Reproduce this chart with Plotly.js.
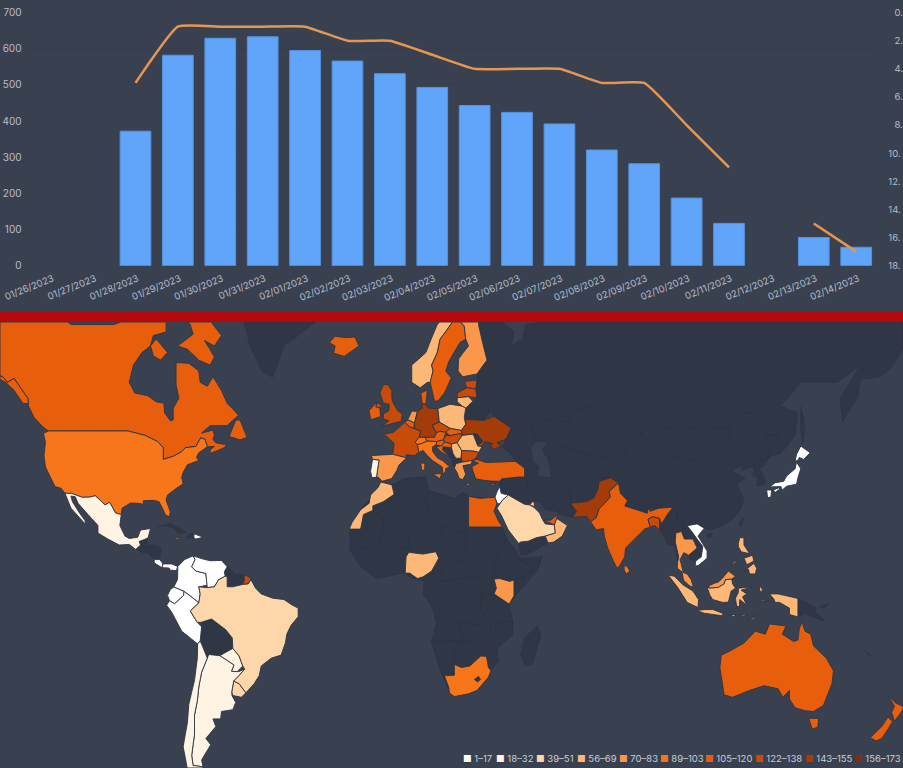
<!DOCTYPE html>
<html><head><meta charset="utf-8">
<script src="https://cdn.plot.ly/plotly-3.0.0.min.js"></script>
<style>html,body{margin:0;padding:0;background:#394151}</style></head>
<body><div id="chart" style="width:903px;height:768px"></div>
<script>
/* ---------- top chart values ---------- */
const dates = ['01/26/2023','01/27/2023','01/28/2023','01/29/2023','01/30/2023','01/31/2023','02/01/2023','02/02/2023','02/03/2023','02/04/2023','02/05/2023','02/06/2023','02/07/2023','02/08/2023','02/09/2023','02/10/2023','02/11/2023','02/12/2023','02/13/2023','02/14/2023'];
const barValues = [null,null,372,582,629,633,595,566,531,493,443,424,392,320,282,187,117,null,78,51];
const rankValues = [null,null,5,1,1,1,1,2,2,3,4,4,4,5,5,8,11,null,15,17];
const rankTicks = [0,2,4,6,8,10,12,14,16,18];
const rankTickText = ['\u20070.','\u20072.','\u20074.','\u20076.','\u20078.','10.','12.','14.','16.','18.'];

/* ---------- map values ---------- */
const binLabels = ['1–17','18–32','39–51','56–69','70–83','89–103','105–120','122–138','143–155','156–173'];
const binLow  = [1,18,39,56,70,89,105,122,143,156];
const binHigh = [17,32,51,69,83,103,120,138,155,173];
const binColors = ['#ffffff','#fff3e4','#fdd7aa','#fdb877','#fb974a','#f8761a','#e75f0d','#c94b0a','#a43c09','#7f2f0d'];
const countryIds = ['CAN','ALK','USA','MEX','CRI','PAN','DOM','JAM','COL','VEN','GUF','ECU','PER','PRY','URY','ARG','CHL','BRA',
 'ISL','GBR','IRL','FRA','ESP','PRT','BEL','NLD','DEU','DNK','NOR','SWE','FIN','EST','LVA','LTU','POL','CZE','SVK','AUT','HUN','CHE','ITA','SVN','HRV','SRB','ROU','BGR','GRC','TUR','CYP','UKR',
 'PAK','IND','BGD','LKA','THA','VNM','MYS','IDN','PHL','JPN','AUS','NZL','ISR','SAU','OMN','ARE','KWT','EGY','MAR','NGA','KEN','ZAF'];
const countryValues = [112,112,96,25,10,10,10,76,10,10,130,10,12,25,45,25,20,45,
 112,130,112,130,76,25,112,76,150,112,60,110,76,130,122,60,60,130,112,112,125,96,96,112,112,60,60,125,76,112,112,150,
 148,112,130,96,76,10,76,60,60,10,112,112,10,45,56,112,60,112,60,60,76,96];
const noDataIds = ['AFR','RUS','SAK','CHN','HAI','TWN','MNG','KAZ','CAS','AFG','IRN','IRQ','CAU','YEM','NPL','MMR','LAO','KHM','PRK','PNG','NBR','NCL','GRL','BLR','MDA','BIH','ALB','CAM','CUB','HTI','BOL','GUY','MDG',
 'MRT','MLI','DZA','LBY','NER','TCD','SDN','ETH','SOM','CAF','COD','AGO','ZMB','TZA','MOZ','NAM','BWA','CMR'];
const holeIds = ['LSO'];

/* Country outlines, flat lon,lat lists: the base map files cannot be fetched, so these are read by eye. */
const outlines = {
CAN:[[-141,69.6,-136,69,-128,70,-125,70,-120,69.5,-115,68,-108,68,-100,68,-96,68.5,-94,71,-91,69.5,-88,68.5,-85,69.5,-81.5,69,-81.5,67,-86,66.5,-87,65,-90,64,-93,62,-94.5,59,-92.5,57,-88,56.5,-85,55.3,-82.3,55,-82,53,-80,51.3,-79,51.5,-79,54,-77,56,-78,58.5,-78,60,-78,62.4,-73.5,62.3,-70,61,-69.5,59,-67,58.3,-65,60,-62,57.5,-60,55,-56,52.5,-60,50.2,-66,50.2,-69,48.5,-65,49.2,-64.5,48,-65,47,-64,46.2,-61,45.8,-60,46,-61,45,-66,43.5,-66,44.5,-64.5,45.3,-67,45.2,-67.8,47,-69.3,47.4,-71,45.3,-74.7,45,-76,44,-79,42.8,-82.5,42,-82.5,45,-84.5,46.5,-89,48,-95,49,-123,49,-125,50,-128,52,-130,54.5,-130.2,56,-135,59.7,-137.5,59,-139,60,-141,60.3],
 [-59.3,47.7,-57,51.4,-55.5,51.5,-53,47.5,-55.5,46.9],[-87,65,-85,66,-81,64,-83.5,62.8,-86,63.5],
 [-73,68,-72,66.7,-77.5,65,-74,64.5,-70,62.8,-66,62,-64.5,63.3,-68,65.8,-64.5,65,-62,66.5,-65,68,-68,70,-73,72,-85,73.5,-80,71]],
ALK:[[-141,69.6,-141,60.3,-139,60,-137.5,59,-135,59.7,-130.2,56,-130,54.9,-132,55,-135,57.5,-138,59,-141,59.8,-150,60,-150,70.5]],
USA:[[-123,49,-95,49,-89,48,-84.5,46.5,-82.5,45,-82.5,42,-79,42.8,-76,44,-74.7,45,-71,45.3,-69.3,47.4,-67.8,47,-67,45.2,-70,43.7,-70.8,42.5,-70,41.7,-74,40.6,-75.5,38.5,-76,37,-75.5,35.3,-78,33.9,-81,32,-81.5,30.5,-80,26.8,-80.4,25.2,-81.8,26,-82.8,28,-84,30,-86,30.4,-89.5,30.3,-89.5,29.2,-91.5,29.5,-94,29.6,-97,28,-97.3,26,-99.3,26.5,-101.4,29.8,-103,29,-104.8,30.5,-106.5,31.8,-108.2,31.4,-111,31.3,-114.8,32.5,-117.1,32.5,-118.5,34,-120.6,34.5,-122,36.8,-124,40,-124.5,43,-124,46.3,-124.7,48.4]],
MEX:[[-117.1,32.5,-114.8,32.5,-111,31.3,-108.2,31.4,-106.5,31.8,-104.8,30.5,-103,29,-101.4,29.8,-99.3,26.5,-97.3,26,-97.8,22.5,-96,19,-94.5,18.2,-91.5,18.6,-90.5,21,-87,21.5,-87.8,18.5,-89,17.9,-91,17.2,-90.5,16,-92.2,14.5,-94.5,16.2,-98,16,-102,18,-105.5,20,-105.5,22.5,-109,26,-112.5,29.5,-113.5,31.5,-115,31.7,-114.5,30,-112,26.5,-110,24,-110,23,-112,25,-115,28]],
CAM:[[-92.2,14.5,-90.5,16,-91,17.2,-89,17.9,-88.2,18.4,-88.3,16,-85,15.9,-83.2,15,-83.7,11,-85.7,11,-87.5,13,-89.5,13.4]],
CRI:[[-85.7,11,-83.7,11,-82.6,9.5,-83,8.2,-85.7,9.9]],
PAN:[[-82.9,8.2,-82.6,9.5,-79.5,9.5,-77.4,8.6,-77.9,7.2,-80,7.3,-80.5,8.1]],
CUB:[[-85,22,-80,23.2,-74.2,20.2,-77.5,19.9,-78.5,21.5,-82,22.5]],
DOM:[[-71.7,19.8,-68.4,18.6,-71,18,-71.7,18.3]],
HTI:[[-71.7,19.8,-71.7,18.3,-74.4,18.4,-72.8,19.9]],
JAM:[[-78.3,18.4,-76.3,18.2,-77,17.8,-78.2,18]],
COL:[[-77.4,8.6,-75,11,-72,12.3,-71.3,11,-72.5,8.5,-71,7,-67.5,6.2,-67,2,-70,1.5,-69.5,-1,-70,-4.2,-72,-2.5,-75.2,-0.1,-78.8,1.4,-77.5,4,-77.4,6.5]],
VEN:[[-72,12.3,-68.5,11.2,-66,10.6,-62,10.7,-60,8.5,-61,6.8,-60.7,5.2,-63,4,-64.5,1.5,-67,1.2,-67.5,6.2,-71,7,-72.5,8.5,-71.3,11]],
GUY:[[-60,8.5,-57,6,-54,5.8,-54,3.5,-54.6,2.3,-58,1.5,-60,1.5,-60,5,-60.7,5.2,-61,6.8]],
GUF:[[-54,5.8,-52,4.8,-51.6,4,-52.6,2.5,-54.6,2.3,-54,3.5]],
ECU:[[-78.8,1.4,-75.2,-0.1,-75.3,-1.5,-78.5,-4.5,-80.3,-3.4,-81,-1.5,-80,0.5]],
PER:[[-80.3,-3.4,-78.5,-4.5,-75.3,-1.5,-75.2,-0.1,-72,-2.5,-70,-4.2,-73,-7,-70.5,-11,-69,-12.5,-69.5,-17.3,-70.4,-18.3,-76,-14,-79.5,-7.5,-81.3,-5]],
BOL:[[-69,-10.9,-65.5,-9.8,-60.5,-13.5,-58.2,-16.3,-58,-19.8,-62.6,-22.2,-67,-23,-68.5,-19.5,-69.5,-17.3,-69,-12.5]],
PRY:[[-62.6,-22.2,-58,-19.8,-55.8,-22.3,-54.5,-25.5,-56.5,-27.3,-58.5,-27.2,-57.6,-25.2]],
URY:[[-58.4,-33.5,-57.7,-30.2,-55.8,-31,-53.4,-33.7,-55,-35,-58,-34.5]],
ARG:[[-66.5,-21.8,-62.6,-22.2,-57.6,-25.2,-58.5,-27.2,-56,-27.3,-53.8,-26.5,-55.8,-28.5,-57.7,-30.2,-58.4,-33.5,-58.3,-34.5,-57,-36.5,-58,-38.5,-62,-39,-62.3,-41,-65,-41,-64,-43,-67.5,-46,-65.8,-47.5,-69,-51,-68.5,-52.5,-72,-52.2,-72.5,-50,-71.5,-45,-71.5,-40,-70.5,-36,-70,-32,-69,-27.5,-67,-23]],
CHL:[[-70.4,-18.3,-69.5,-17.3,-68.5,-19.5,-67,-23,-69,-27.5,-70,-32,-70.5,-36,-71.5,-40,-71.5,-45,-72.5,-50,-72,-52.2,-68.5,-52.5,-69,-53.5,-74,-53,-75.5,-48,-74,-42,-73.5,-37,-71.5,-30,-70.5,-23]],
BRA:[[-51.6,4,-50,1,-48,-1,-44,-2.5,-40,-3,-37,-5,-35,-6,-35,-9,-37.5,-12,-39,-15,-39.5,-18,-41,-22,-44.5,-23,-48,-25.5,-48.7,-28.5,-50.5,-31,-53.4,-33.7,-55.8,-31,-57.7,-30.2,-55.8,-28.5,-53.8,-26.5,-54.5,-25.5,-55.8,-22.3,-58,-19.8,-58.2,-16.3,-60.5,-13.5,-65.5,-9.8,-69,-10.9,-70.5,-11,-73,-7,-70,-4.2,-69.5,-1,-70,1.5,-67,1.2,-64.5,1.5,-63,4,-60.7,5.2,-60,5,-60,1.5,-58,1.5,-54.6,2.3,-52.6,2.5]],
GRL:[[-44,59.9,-40,65,-30,68,-22,70,-20,75,-30,83,-60,82,-68,76,-55,70,-52,65,-48,61]],
ISL:[[-24,65.5,-22,66.4,-18,66.2,-15,66.3,-13.6,65,-18.8,63.4,-22.5,63.9,-22,65]],
GBR:[[-5.5,50.1,1.3,51.2,1.7,52.7,0,53.5,-1.5,55,-2,56,-2,57.5,-3.5,58.6,-5,58.6,-6.2,57,-5,55,-3,54.8,-3,53.5,-5,52.8,-5,51.7,-3,51.3],[-7.3,55.1,-5.6,54.6,-6.2,54,-7.7,54.3]],
IRL:[[-7.3,55.2,-7.7,54.3,-6.2,54,-6,52.2,-9.5,51.5,-10,53.5,-8.5,54.5]],
FRA:[[2.5,51,4.2,50,5.8,49.6,8.2,49,7.6,47.5,6.2,46.3,7,45.8,7.5,43.8,6,43,3,43.2,3.2,42.4,-1.7,43.3,-1.2,46,-4.7,48.3,-1.5,48.7,0.2,49.6]],
ESP:[[-9.2,43,-1.7,43.3,3.2,42.4,0.5,40.5,-0.3,39,-2,36.8,-5.5,36,-6.5,37,-7.4,37.2,-7,39.5,-6.5,41.8,-8.8,42]],
PRT:[[-8.8,42,-6.5,41.8,-7,39.5,-7.4,37.2,-9,37,-9.5,38.8]],
BEL:[[2.5,51,3.5,51.4,4.2,51.4,6,50.8,5.8,49.6,4.2,50]],
NLD:[[3.5,51.4,4.2,51.4,6,50.8,7,53.3,5,53.4]],
DEU:[[6,50.8,7,53.3,8.7,54,8.7,54.9,9.5,54.9,11,54,14.2,53.9,14.7,51,12.2,50.3,13.7,48.6,13,47.5,9.6,47.5,7.6,47.5,8.2,49,5.8,49.6]],
DNK:[[8.2,57,10.5,57.6,10,55,9.5,54.9,8.7,54.9]],
NOR:[[5,59,5,62,10,64,14,68,19,70,25,71,31,70,29,69.5,25,69,20.6,69,15,66,14,64,12,62,12.5,61,11.5,59,10.5,59,8,58]],
SWE:[[11.5,59,12.5,61,12,62,14,64,15,66,20.6,69,23.5,67.8,24,66,22,65.5,18,62.5,17,61,18.9,59.8,16.5,57,14.3,55.5,13,55.4]],
FIN:[[20.6,69,25,69,29,69.5,28.5,68,31.5,62.8,28,60.5,23,60,21.3,61,21.5,63,25,65,24,66,23.5,67.8]],
EST:[[23.5,59.2,28,59.4,27.5,57.8,24.4,58]],
LVA:[[21,57,24.4,58,27.5,57.8,28,56.1,25,56.3,21,56.1]],
LTU:[[21,56.1,25,56.3,26.5,55.4,24,54,22.8,54.4,21,55.3]],
POL:[[14.2,53.9,18.5,54.8,22.8,54.4,24,54,23.5,52,24,50.5,22.5,49.1,18.5,49.6,14.7,51]],
CZE:[[12.2,50.3,14.7,51,18.5,49.6,17,48.7,14.9,48.9,13.7,48.6]],
SVK:[[17,48.7,18.5,49.6,22.5,49.1,22.8,48,22,48.4,18.5,47.9]],
AUT:[[9.6,47.5,13,47.5,13.7,48.6,14.9,48.9,17,48.7,16.2,46.9,13.8,46.5,10.4,46.6]],
HUN:[[16.2,46.9,17,48,18.5,47.9,22,48.4,22.8,48,21,46.2,19,45.9,16.5,46.4]],
CHE:[[6.2,46.3,7.6,47.5,9.6,47.5,10.4,46.6,8.5,46,7,45.8]],
ITA:[[7,45.8,8.5,46,10.4,46.6,13.8,46.5,13.6,45.7,12.3,45.2,12.4,44,14,42.4,16,41.6,18.4,40,16.9,39.5,17,38.9,16,38,15.7,40,12.3,41.7,10.5,43,9,44.3,7.5,43.8],[12.5,38,15.5,38.2,15,36.7],[8.2,41,9.6,41,9.6,39.2,8.5,39]],
SVN:[[13.6,45.6,13.8,46.5,16.2,46.9,16.5,46.4,15.6,45.5]],
HRV:[[13.6,45.2,15.6,45.5,16.5,46.4,19,45.9,19,45,16,45.2,15.9,44.4,18.5,42.5,15.2,44]],
BIH:[[16,45.2,19,45,19.5,43.6,18.5,42.5,15.9,44.4]],
SRB:[[19,45.9,21,46.2,22.6,44.3,22.4,42.3,20.5,42.3,19.5,43.6,19,45]],
ALB:[[18.5,42.5,19.5,43.6,20.5,42.3,22.4,42.3,22.9,41.3,20.6,40.9,20,39.7,19.3,41,19.3,42]],
ROU:[[21,46.2,22.8,48,26.6,48.3,28.2,45.5,29.7,45.2,28.6,43.8,27,44.1,22.6,44.3]],
MDA:[[26.6,48.3,28,48.3,30,46.5,28.2,45.5]],
BGR:[[22.6,44.3,27,44.1,28.6,43.8,27.7,42.4,26.3,41.7,22.9,41.3,22.4,42.3]],
GRC:[[20,39.7,20.6,40.9,22.9,41.3,26.3,41.7,26,40.8,23,40.3,24,38,23,36.5,21.7,36.8,21,38.4],[23.6,35.5,26.2,35.2,24.7,34.9]],
TUR:[[26.3,41.7,28,42,31,41.2,36,41.3,41.5,41.5,44.7,39.7,44.8,37.2,42.3,37.2,36.7,36.7,36,36,32.5,36.1,30.5,36.3,27.5,36.7,26.3,39.5,26.2,40.1,28.5,41]],
CYP:[[32.4,35,34.5,35.6,33.5,34.7]],
UKR:[[24,51.6,30.5,51.4,34,52.3,40,49.7,38.2,47.1,35,46.2,36.5,45.3,33.5,44.5,32.8,45.5,33.5,46,30.8,46.5,29.7,45.2,28.2,45.5,30,46.5,28,48.3,26.6,48.3,22.8,48,22.5,49.1,24,50.5]],
BLR:[[23.5,52,24,54,26.5,55.4,28,56.1,31,55,32.5,53.2,30.5,51.4,24,51.6]],
RUS:[[28,60.5,31.5,62.8,28.5,68,29,69.5,33,69.5,41,67,40,65,44,66,45,68,54,68.5,68,69,68,73,80,73,100,77,113,74,130,71,140,72.5,160,70,178,69,178,64.5,174,61.5,170,60,163,59.5,162,56,158.5,52.8,156.7,51,155.7,56,161,60.5,163,62,155,59,142,59,135,54.5,141,53,140,48,135,43.5,131,42.7,131,45,135,48,130,48,125,53,120,53,117,49.7,108,49.5,98,50,87,49,80,51,71,54.5,61,53.5,61,51,51,51.5,47,50,49,46.5,47,45,47.7,41.5,40,43.4,37,45,38.2,47.1,40,49.7,34,52.3,32.5,53.2,31,55,28,56.1,27.5,57.8,28,59.4]],
SAK:[[142,54.3,143,52,143.5,49,142.5,46,142,49]],
CHN:[[73.5,39.5,80,42,80.5,45,87,49,90,46,97,42.7,105,41.7,112,45,117,46.5,117,49.7,120,53,125,53,130,48,135,48,131,45,131,42.7,128,41.5,124.3,40,121,39,122,40.5,118,39,120.5,37.5,122.5,37,119.5,35,122,31,121,28,118,24.5,114,22.3,110,21,108,21.6,105.5,23,102,22.4,101.5,21.3,98.5,24,98.5,28,97,28.3,92,28,88.2,27.9,81,30.3,78.5,32.5,77.8,35.5,75,37]],
HAI:[[108.7,19.3,110.5,20,111,19.5,109.7,18.3]],
TWN:[[120.2,23,121.5,25.2,121.9,24.5,120.9,22]],
MNG:[[87.8,49.1,98,50,108,49.5,117,49.7,117,46.5,112,45,105,41.7,97,42.7,90,46]],
KAZ:[[47,50,51,51.5,61,51,61,53.5,71,54.5,80,51,87,49,80.5,45,80,42,71,42.7,66,43.5,61,44.5,58,45.5,56,41.3,53,42,51,44.5,53,46.5,49,46.5]],
CAS:[[53,42,56,41.3,58,45.5,61,44.5,66,43.5,71,42.7,80,42,73.5,39.5,75,37,71.5,37,67,37.3,62,35.5,54,37.3,53.8,39.5]],
AFG:[[61,31.5,60.5,34,62,35.5,67,37.3,71.5,37,75,37,71,36,70.5,33.5,69,31,66.5,30,61,29.5]],
PAK:[[61,29.5,66.5,30,69,31,70.5,33.5,71,36,75,37,77.8,35.5,74.5,33,75,31.5,73,29.5,71,27.8,70,25,68,23.7,66.5,25.4,61.6,25.1,63,27]],
IND:[[74.5,33,77.8,35.5,78.5,32.5,81,30.3,80,28.7,88,26.4,88.2,27.9,89,27,92,28,97,28.3,95,26,93,23,92.2,24.8,89.8,25.3,88.2,24.5,89,22,87,21.3,84,18.5,80.3,15,80,12,78,8.5,77.3,8,76,10.5,74,15,72.8,19,72.5,21.5,70,21,69,22.3,68,23.7,70,25,71,27.8,73,29.5,75,31.5]],
BGD:[[88.2,24.5,89.8,25.3,92.2,24.8,92.3,21,90.5,22.5,89,22]],
LKA:[[79.8,9,81,8.5,81.8,7,80.5,6,79.8,7.5]],
NPL:[[80,28.7,81,30.3,88.2,27.9,88,26.4]],
MMR:[[92.2,21,93,23,95,26,97,28.3,98.5,28,98.5,24,101.5,21.3,100,20.5,97.8,17,99,12,98.6,10,97.7,16,95,16,94,18.5]],
THA:[[97.8,17,98,20,100,20.5,101,18,104,18,105.5,15,102.5,12.5,100.8,13.4,99.5,11,100.5,7,102,6,100.2,6.7,98.5,8,98.6,10,99,12]],
LAO:[[100,20.5,101.5,21.3,102,22.4,104,20,105.5,18,107.5,15.5,105.5,15,104,18,101,18]],
VNM:[[102,22.4,105.5,23,108,21.6,105.8,19,109,14,109,11.5,106,9,104.8,8.7,105,10.5,107,12,107.5,15.5,105.5,18,104,20]],
KHM:[[102.5,12.5,105.5,15,107.5,15,107,12,105,10.5,103,11]],
MYS:[[100.2,6.7,102,6,103.4,4,104.2,1.4,103,1.7,100.7,3.8],[109.5,1.8,111.5,2.7,113,3.2,114.5,4.6,116.5,7,119,5.2,117.7,4.2,115.5,4,115,2.5,113,1.3,110,1]],
IDN:[[95.3,5.6,97.5,5.2,100.5,2.2,104,0,106,-3,105.8,-5.8,102,-4,98.5,1.5],[105.3,-6.8,108.5,-6.5,111,-6.5,114.5,-7.8,114.5,-8.7,108,-7.8],[109,1.5,110,1,113,1.3,115,2.5,115.5,4,117.7,4.2,118,2.5,119,1,117.5,0,116.5,-3.9,114.5,-4,111,-3,110,-1.5],[120,1,125,1.5,121,0.3,123,-1,121.5,-2,123,-5,120.5,-3,120.4,-5.6,119.4,-5.3,119,-2.5,120,-0.5],[131,-1,134,-1,137,-1.7,141,-2.6,141,-9.1,138,-8.2,138,-6,134.5,-4,133,-4,132.5,-2.8],[116.8,-8.2,119,-8.3,118.5,-9],[120,-8.3,123,-8.3,122,-8.8],[123.5,-10.3,127,-8.4,125,-10],[128,-3,130.8,-3.5,128.5,-3.5],[127.5,2,128.5,0.5,128,-0.8,127.5,0.5]],
PNG:[[141,-2.6,145,-4.5,147.5,-6,147,-7,150.5,-10.5,147,-9.5,143.5,-8,141,-9.1]],
NBR:[[148.5,-5.5,152,-4.2,150.5,-6]],
NCL:[[164,-20.2,167,-22.3,166,-22]],
PHL:[[120.5,18.5,122,18.4,122,16,124,13,121,13.7,120,15.5,120,16.5],[122,7,125.5,9.7,126.5,8,126,6,124,6,123.5,7.7],[122,11.5,125,12.5,125.5,10.5,123,9.2],[117.2,8.5,119.5,11.3,119,10]],
JPN:[[131,34.4,133,35.6,136,36,137,37.5,140,39.5,140.5,41.3,142,39.5,141,37,140.5,35.2,137,34.6,135.5,33.5,135,34.5],[140,41.5,140.5,43.3,142,45.4,145.3,43.7,143,42,141.5,42.5,141,41.8],[130,33.5,131.7,33.5,131.5,31.4,130.3,31.2],[132.3,33.5,134.5,34.2,134.5,33.7,133,32.8]],
PRK:[[124.3,40,128,41.5,131,42.7,129.5,40.5,127.5,39.5,129.3,37,129.3,35.3,126.5,34.4,126.7,37,125,37.8,125.5,39.5]],
IRN:[[44.8,39.5,48,39.5,49,37.5,54,37,62,35.5,60.5,34,61,31.5,61,29.5,63,27,61.6,25.1,57,26,56,27,52,27.5,50,30,48.5,30,46,33,45.5,36,44.8,37.2]],
IRQ:[[36,36,36.7,36.7,42.3,37.2,44.8,37.2,45.5,36,46,33,48.5,30,47.7,30.2,46.5,29,44.7,29.2,39,32,36.5,32.5,36,34.5]],
CAU:[[40,43.4,47.7,41.5,50,40,49,37.5,48,39.5,44.8,39.5,44.7,39.7,41.5,41.5]],
ISR:[[34.3,31.3,35.1,33.1,36,34.5,36.5,32.5,39,32,37,30.5,36,29.3,35,29.5]],
SAU:[[36,29.3,37,30.5,39,32,44.7,29.2,46.5,29,48,28.3,50,26.5,51,24.5,52,23,55.2,22.7,55.6,20,52,19,49,18.5,46,17.3,43.3,17,42.7,16.5,39,21,36.7,25.5,35,28]],
YEM:[[42.7,16.5,43.3,17,46,17.3,49,18.5,52,19,53,16.7,48,14,45,12.7,43.3,12.7]],
OMN:[[52,19,55.6,20,55.2,22.7,56,24.8,59.8,22.5,58,19,55,17,53,16.7]],
ARE:[[51.5,24.2,55.2,22.7,56,24.8,56.3,26,54,24.2]],
KWT:[[46.5,29,47.7,30.2,48.3,29.3,48,28.5]],
EGY:[[25,31.6,29,31,32,31.2,34.3,31.3,35,29.5,34,27,35.5,24,37,22,25,22]],
AFR:[[-5.9,35.8,-2,35,3,36.9,10,37.3,11,33.5,15,32.3,20,31,23,32.7,25,31.6,32,31.2,34.3,31.3,35,29.5,33,28,37,21.5,38.5,18,43,12,44.5,10.5,51,12,49,7,42,-1,39,-5,40.5,-10,40.5,-15,35,-20,35.5,-24,32.5,-26,32.9,-27,32,-29,28,-33,25,-34,20,-34.8,18.3,-33.5,15,-27,12,-18,13.7,-11,12,-5,9,-1,9.5,3.5,5,4.5,2,6.3,-4,5,-7.7,4.4,-13,8.5,-17,14.7,-16,20,-13,27.8,-9.5,31]],
MAR:[[-5.9,35.8,-2,35,-1.2,32.2,-5,30,-8.7,28.7,-8.7,27.3,-12,26,-13,21.3,-17,21.3,-16,23.5,-13,27.5,-10,29.5,-9.5,32,-6.9,34.2]],
NGA:[[2.7,6.3,3,12,4,13.5,9,12.9,13.5,13.7,14.5,11.5,12,7,9,5,7,4.4,5,5.8,4.3,6.3]],
KEN:[[34,4.2,36,4.4,39.5,3.4,41,3.9,41,-1.7,39.3,-4.6,34,-1,34.8,1]],
ZAF:[[16.5,-28.6,20,-28.4,20,-25,22.5,-26,25.5,-25.5,29.3,-22.3,31.3,-22.4,32,-26,32.9,-27,32,-29,28,-33,25,-34,20,-34.8,18.3,-33.8,18,-32]],
LSO:[[27,-29.7,28.5,-28.7,29.3,-29.7,28.2,-30.5]],
MDG:[[49.3,-12,50.5,-15.5,47.5,-24.8,45,-25.5,43.3,-22,44.5,-16.5]],
MRT:[[-17,21.3,-13,21.3,-13,23,-12,26,-8.7,27.3,-4.8,25,-6,16,-12,15,-16.5,16]],
MLI:[[-4.8,25,1,21,4,19,4,15.3,1,15,-3,13.6,-5,11,-8,10.5,-12,12.5,-12,15,-6,16]],
DZA:[[-1.2,32.2,-2,35,3,36.9,8.5,37,8,33,9.5,30,11.9,24,4,19,1,21,-4.8,25,-8.7,27.3,-5,30]],
LBY:[[11.5,33,15,32.3,20,31,23,32.7,25,31.6,25,20,24,19.5,15,23,11.9,24,9.5,30]],
NER:[[4,19,11.9,24,15,23,16,20.5,13.5,13.7,9,12.9,4,13.5,3,12,1,13.5,4,15.3]],
TCD:[[15,23,24,19.5,24,15,22,11,19,9,15.5,7.5,14.5,11.5,13.5,13.7,16,20.5]],
SDN:[[24,19.5,25,22,37,22,38.5,18,36,14,34,9,35,5,30,3.7,27,5,24,8.5,22,11,24,15]],
ETH:[[36,14,38.5,18,43,12,42.5,11,48,8,45,5,41,3.9,39.5,3.4,36,4.4,35,5,34,9]],
SOM:[[43,11.5,51,12,49,7,42,-1,41,-1.7,41,3.9,45,5,48,8]],
CAF:[[15.5,7.5,19,9,22,11,24,8.5,27,5,22,4.2,18.5,3.5,15,3.5]],
COD:[[12,-5,13,-4.5,18.5,3.5,22,4.2,27,5,30,3.7,29.5,-1,29,-6,30.5,-8.2,28.5,-12,22,-11,16.5,-7]],
AGO:[[12,-5,13.7,-11,12,-17.3,23,-17.5,22,-11,16.5,-7]],
ZMB:[[22,-11,23,-17.5,27,-17.8,33,-14,33,-9.5,30.5,-8.2,28.5,-12]],
TZA:[[30,-1,34,-1,39.3,-4.6,40.5,-10.5,34.5,-11.5,30.5,-8.2,29,-6]],
MOZ:[[40.5,-10.5,40.5,-15,35,-20,35.5,-24,32.9,-26.8,32,-26,31.3,-22.4,33,-19,30.5,-15.5,35,-16,34.5,-11.5]],
NAM:[[12,-17.3,23,-17.5,21,-18.3,20,-22,20,-28.4,16.5,-28.6,14.5,-23]],
BWA:[[21,-18.3,25.3,-17.8,29.3,-22.3,25.5,-25.5,22.5,-26,20,-25,20,-22]],
CMR:[[9,5,12,7,14.5,11.5,15.5,7.5,15,3.5,18.5,3.5,13,-4.5,12,-5,9,-1,9.5,3.5]],
AUS:[[114,-22,113.5,-26,115,-34.3,118,-35,124,-33,129,-31.6,134,-32.5,135.7,-35,138,-33,138,-35.5,140,-38,143.5,-38.8,146.5,-39,150,-37.3,153,-31,153.5,-27,151,-23,146.5,-19,145.5,-15,143.5,-14,142.5,-10.8,141.5,-13,141,-17,139.5,-17.5,135.5,-15,136.8,-12.2,131,-11.5,129.5,-15,126,-14,122,-18,117,-20.7],[144.8,-40.8,148.3,-40.9,148,-43.2,146,-43.6]],
NZL:[[172.7,-34.5,175.5,-36.7,178.5,-37.7,177,-39.6,175,-41.6,174,-39.3,175,-37.5],[172.7,-40.5,174.3,-41.7,172.7,-43.7,170.5,-46,168.5,-46.6,166.5,-45.8,170.5,-43]]
};

/* ---------- helpers: flat list -> clockwise closed ring, long edges split so they stay straight on the map ---------- */
function ring(flat){
  const p=[]; for(let i=0;i<flat.length;i+=2) p.push([flat[i],flat[i+1]]);
  p.push(p[0]);
  let s=0; for(let i=1;i<p.length;i++) s+=(p[i][0]-p[i-1][0])*(p[i][1]+p[i-1][1]);
  if(s<0) p.reverse();
  const out=[p[0]];
  for(let i=1;i<p.length;i++){
    const a=p[i-1],b=p[i],n=Math.max(1,Math.ceil(Math.max(Math.abs(b[0]-a[0]),Math.abs(b[1]-a[1]))/4));
    for(let k=1;k<=n;k++) out.push([a[0]+(b[0]-a[0])*k/n,a[1]+(b[1]-a[1])*k/n]);
  }
  return out;
}
const geojson={type:'FeatureCollection',features:Object.keys(outlines).map(id=>({type:'Feature',id:id,properties:{},geometry:{type:'MultiPolygon',coordinates:outlines[id].map(r=>[ring(r)])}}))};

/* The base-map file is not reachable; give the geo subplot an empty one and draw all land from the outlines above. */
const empty={type:'GeometryCollection',geometries:[]};
const emptyTopo={type:'Topology',arcs:[],objects:{coastlines:empty,land:empty,ocean:empty,lakes:empty,rivers:empty,countries:empty,subunits:empty}};
window.PlotlyGeoAssets=window.PlotlyGeoAssets||{topojson:{}};
window.PlotlyGeoAssets.topojson=window.PlotlyGeoAssets.topojson||{};
window.PlotlyGeoAssets.topojson['un/world_110m']=emptyTopo;
window.PlotlyGeoAssets.topojson['world_110m']=emptyTopo;

/* discrete colour scale from the legend bins */
const zMin=1,zMax=173,norm=v=>(v-zMin)/(zMax-zMin);
const colorscale=[];
binColors.forEach((c,i)=>{const lo=i===0?0:norm((binHigh[i-1]+binLow[i])/2),hi=i===binColors.length-1?1:norm((binHigh[i]+binLow[i+1])/2);colorscale.push([lo,c],[hi,c]);});

const bg='#394151',land='#2f3646',tickColor='#b7bdc9',font='Inter, "Noto Sans", sans-serif';
const flat=(ids,col,line,w)=>({type:'choropleth',geo:'geo',locationmode:'geojson-id',geojson:geojson,locations:ids,z:ids.map(()=>1),
  colorscale:[[0,col],[1,col]],showscale:false,marker:{line:{color:line,width:w}},hoverinfo:'location'});

const traces=[
 {type:'bar',x:dates,y:barValues,name:'Count',marker:{color:'#60a5fa',line:{color:'#5593e0',width:1}},xaxis:'x',yaxis:'y',hoverinfo:'x+y'},
 {type:'scatter',mode:'lines',x:dates,y:rankValues,name:'Rank',line:{color:'#e8954f',width:2.5,shape:'spline',smoothing:0.4},connectgaps:false,xaxis:'x',yaxis:'y2',hoverinfo:'x+y'},
 flat(noDataIds,land,'#2c3342',0.5),
 {type:'choropleth',geo:'geo',locationmode:'geojson-id',geojson:geojson,locations:countryIds,z:countryValues,zmin:zMin,zmax:zMax,colorscale:colorscale,showscale:false,marker:{line:{color:'#2d3443',width:0.9}}},
 flat(holeIds,land,'#2d3443',0.6)
];

const H=768,W=903;
/* legend: one annotation per bin */
const legendX=[461.2,494.2,534.2,574.5,616.5,657.5,703.2,752.5,802.5,852.2];
const annotations=binLabels.map((t,i)=>({xref:'paper',yref:'paper',x:legendX[i]/W,y:1-758/H,xanchor:'left',yanchor:'middle',showarrow:false,align:'left',
  text:'<span style="color:'+binColors[i]+'">■</span> '+t,font:{family:font,size:9.5,color:'#c9ced8'}}));

const layout={
 width:W,height:H,margin:{l:0,r:0,t:0,b:0},paper_bgcolor:bg,plot_bgcolor:bg,showlegend:false,bargap:0.276,font:{family:font,size:10,color:tickColor},
 xaxis:{domain:[29.5/W,877.4/W],type:'category',categoryorder:'array',categoryarray:dates,range:[-0.5,19.5],tickangle:-22,showgrid:false,zeroline:false,showline:false,ticks:'',anchor:'y',ticklabelstandoff:5,ticklabelshift:2,tickfont:{family:font,size:9.5,color:tickColor},automargin:false},
 yaxis:{domain:[1-265.7/H,1-12.6/H],range:[0,700],tickvals:[0,100,200,300,400,500,600,700],gridcolor:'#363d4c',gridwidth:1,zeroline:false,ticks:'outside',ticklen:5,tickcolor:'rgba(0,0,0,0)',tickfont:{family:font,size:10,color:tickColor},automargin:false},
 yaxis2:{domain:[1-265.7/H,1-12.6/H],overlaying:'y',side:'right',anchor:'x',range:[18,0],tickvals:rankTicks,ticktext:rankTickText,showgrid:false,zeroline:false,ticks:'outside',ticklen:8,tickcolor:'rgba(0,0,0,0)',tickfont:{family:font,size:9.5,color:tickColor},automargin:false},
 geo:{domain:{x:[0,1],y:[0,446/H]},bgcolor:bg,showframe:false,showland:false,showocean:false,showlakes:false,showrivers:false,showcountries:false,showcoastlines:false,showsubunits:false,
   center:{lon:19,lat:16},projection:{type:'mercator',scale:1},lonaxis:{range:[-140,178],showgrid:false},lataxis:{range:[-45.4,62.6],showgrid:false}},
 shapes:[{type:'rect',xref:'paper',yref:'paper',x0:0,x1:1,y0:1-322/H,y1:1-312/H,fillcolor:'#b40a0e',line:{width:0},layer:'above'}],
 annotations:annotations
};
Plotly.newPlot('chart',traces,layout,{displayModeBar:false,responsive:false});
</script></body></html>
